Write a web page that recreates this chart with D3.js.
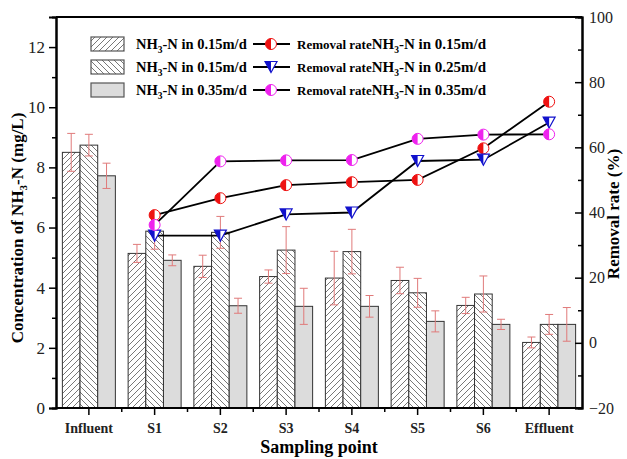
<!DOCTYPE html>
<html>
<head>
<meta charset="utf-8">
<script src="https://cdn.jsdelivr.net/npm/d3@7"></script>
<style>
    body { margin: 0; background: #fff; }
    text { font-family: "Liberation Serif", "DejaVu Serif", serif !important; }
</style>
</head>
<body>
<svg id="chart" width="627" height="459"></svg>
<script>
// data
var categories = ["Influent", "S1", "S2", "S3", "S4", "S5", "S6", "Effluent"];
var conc015 = [8.50, 5.14, 4.71, 4.37, 4.32, 4.24, 3.41, 2.18];
var err015 = [0.63, 0.30, 0.37, 0.22, 0.89, 0.44, 0.27, 0.18];
var conc025 = [8.74, 5.88, 5.84, 5.25, 5.20, 3.83, 3.79, 2.78];
var err025 = [0.36, 0.60, 0.53, 0.78, 0.74, 0.48, 0.60, 0.33];
var conc035 = [7.72, 4.91, 3.40, 3.38, 3.38, 2.88, 2.78, 2.78];
var err035 = [0.42, 0.18, 0.25, 0.60, 0.36, 0.35, 0.17, 0.56];
var rateCats = ["S1", "S2", "S3", "S4", "S5", "S6", "Effluent"];
var rate015 = [39.2, 44.4, 48.4, 49.3, 50.0, 59.7, 74.0];
var rate025 = [32.9, 32.9, 39.4, 40.0, 55.8, 56.2, 67.6];
var rate035 = [36.2, 55.7, 56.0, 56.1, 62.6, 63.9, 64.0];
var leftTicks = [0, 2, 4, 6, 8, 10, 12];
var rightTicks = [-20, 0, 20, 40, 60, 80, 100];

var svg = d3.select("#chart");
var margin = { left: 56, right: 45, top: 17, bottom: 51 };
var width = 627, height = 459;
var x0 = margin.left, x1 = width - margin.right;
var yTop = margin.top, yBot = height - margin.bottom;

var x = d3.scaleBand().domain(categories).range([x0, x1]).padding(0);
var groupW = x.bandwidth() * 0.806;
var xs = d3.scaleBand().domain([0, 1, 2]).range([0, groupW]);
var yL = d3.scaleLinear().domain([0, 13]).range([yBot, yTop]);
var yR = d3.scaleLinear().domain([-20, 100]).range([yBot, yTop]);

function groupLeft(c) { return x(c) + (x.bandwidth() - groupW) / 2; }
function cx(c) { return x(c) + x.bandwidth() / 2; }

// hatch patterns
var defs = svg.append("defs");
function hatch(id, dir) {
    var p = defs.append("pattern").attr("id", id)
        .attr("patternUnits", "userSpaceOnUse").attr("width", 6).attr("height", 6);
    p.append("rect").attr("width", 6).attr("height", 6).attr("fill", "#fff");
    var path = dir > 0 ? "M0,6 L6,0 M-1,1 L1,-1 M5,7 L7,5" : "M0,0 L6,6 M-1,5 L1,7 M5,-1 L7,1";
    p.append("path").attr("d", path).attr("stroke", "#555").attr("stroke-width", 0.8);
}
hatch("h1", 1);
hatch("h2", -1);

var series = [
    { vals: conc015, errs: err015, fill: "url(#h1)" },
    { vals: conc025, errs: err025, fill: "url(#h2)" },
    { vals: conc035, errs: err035, fill: "#dcdcdc" }
];

// bars
series.forEach(function (s, si) {
    svg.append("g").selectAll("rect")
        .data(categories).enter().append("rect")
        .attr("x", function (c) { return groupLeft(c) + xs(si); })
        .attr("width", xs.bandwidth())
        .attr("y", function (c, i) { return yL(s.vals[i]); })
        .attr("height", function (c, i) { return yBot - yL(s.vals[i]); })
        .attr("fill", s.fill)
        .attr("stroke", "#333").attr("stroke-width", 1);
});

// error bars
series.forEach(function (s, si) {
    var g = svg.append("g").attr("stroke", "#e07a7a").attr("stroke-width", 1);
    categories.forEach(function (c, i) {
        var mx = groupLeft(c) + xs(si) + xs.bandwidth() / 2;
        var hi = yL(s.vals[i] + s.errs[i]), lo = yL(s.vals[i] - s.errs[i]);
        g.append("line").attr("x1", mx).attr("x2", mx).attr("y1", hi).attr("y2", lo);
        g.append("line").attr("x1", mx - 4).attr("x2", mx + 4).attr("y1", hi).attr("y2", hi);
        g.append("line").attr("x1", mx - 4).attr("x2", mx + 4).attr("y1", lo).attr("y2", lo);
    });
});

// removal rate lines
var lineSeries = [
    { vals: rate015, color: "#ee1111", shape: "circle" },
    { vals: rate025, color: "#1111cc", shape: "tri" },
    { vals: rate035, color: "#ee22ee", shape: "circle" }
];
var line = d3.line()
    .x(function (d, i) { return cx(rateCats[i]); })
    .y(function (d) { return yR(d); });

lineSeries.forEach(function (s) {
    svg.append("path").datum(s.vals).attr("d", line)
        .attr("fill", "none").attr("stroke", "#000").attr("stroke-width", 1.8);
});

function marker(g, mx, my, s) {
    var r = 5.5;
    if (s.shape === "circle") {
        g.append("circle").attr("cx", mx).attr("cy", my).attr("r", r)
            .attr("fill", "#fff").attr("stroke", s.color).attr("stroke-width", 1);
        g.append("path")
            .attr("d", "M" + mx + "," + (my - r) + " A" + r + "," + r + " 0 0,0 " + mx + "," + (my + r) + " Z")
            .attr("fill", s.color);
    } else {
        var h = 11, w = 12;
        g.append("path")
            .attr("d", "M" + (mx - w / 2) + "," + (my - h / 2) + " L" + (mx + w / 2) + "," + (my - h / 2) + " L" + mx + "," + (my + h / 2) + " Z")
            .attr("fill", "#fff").attr("stroke", s.color).attr("stroke-width", 1.2);
        g.append("path")
            .attr("d", "M" + (mx - w / 2) + "," + (my - h / 2) + " L" + mx + "," + (my - h / 2) + " L" + mx + "," + (my + h / 2) + " Z")
            .attr("fill", s.color);
    }
}

lineSeries.forEach(function (s) {
    var g = svg.append("g");
    s.vals.forEach(function (v, i) { marker(g, cx(rateCats[i]), yR(v), s); });
});

// frame
svg.append("line").attr("x1", x0).attr("x2", x1).attr("y1", yTop).attr("y2", yTop)
    .attr("stroke", "#000").attr("stroke-width", 2);

// left axis
var gl = svg.append("g").attr("transform", "translate(" + x0 + ",0)");
gl.call(d3.axisLeft(yL).tickValues(d3.range(1, 13, 2)).tickSize(4).tickFormat(""));
gl.append("g").call(d3.axisLeft(yL).tickValues(leftTicks).tickSize(7).tickPadding(4));
gl.selectAll(".domain").attr("stroke-width", 2);
gl.selectAll("line").attr("stroke-width", 1.5);
gl.selectAll("text").attr("font-size", 17).attr("fill", "#222");

// right axis (ticks inside)
var gr = svg.append("g").attr("transform", "translate(" + x1 + ",0)");
gr.call(d3.axisLeft(yR).tickValues(d3.range(-10, 100, 20)).tickSize(4).tickFormat(""));
gr.append("g").call(d3.axisLeft(yR).tickValues(rightTicks).tickSize(7).tickFormat(""));
gr.append("g").selectAll("text").data(rightTicks).enter().append("text")
    .attr("x", 7).attr("y", function (d) { return yR(d); }).attr("dy", "0.35em")
    .attr("text-anchor", "start")
    .attr("font-size", 16).attr("fill", "#222")
    .text(function (d) { return d < 0 ? "\u2212" + Math.abs(d) : d; });
gr.selectAll(".domain").attr("stroke-width", 2);
gr.selectAll("line").attr("stroke-width", 1.5);

// bottom axis
var gb = svg.append("g").attr("transform", "translate(0," + yBot + ")");
gb.append("line").attr("x1", x0).attr("x2", x1).attr("stroke", "#000").attr("stroke-width", 2);
gb.selectAll(".major").data(categories).enter().append("line")
    .attr("x1", cx).attr("x2", cx).attr("y1", 0).attr("y2", 7)
    .attr("stroke", "#000").attr("stroke-width", 1.5);
gb.selectAll(".minor").data(categories.slice(1)).enter().append("line")
    .attr("x1", function (c) { return x(c); }).attr("x2", function (c) { return x(c); })
    .attr("y1", 0).attr("y2", 4)
    .attr("stroke", "#000").attr("stroke-width", 1.5);
gb.selectAll("text").data(categories).enter().append("text")
    .attr("x", cx).attr("y", 25).attr("text-anchor", "middle")
    .attr("font-size", 14).attr("font-weight", "bold").attr("fill", "#222")
    .text(function (c) { return c; });

// axis titles
svg.append("text").attr("x", 319).attr("y", 453).attr("text-anchor", "middle")
    .attr("font-size", 18).attr("font-weight", "bold").text("Sampling point");

var lt = svg.append("text").attr("transform", "translate(23,228) rotate(-90)")
    .attr("text-anchor", "middle").attr("font-size", 17).attr("font-weight", "bold");
lt.append("tspan").text("Concentration of NH");
lt.append("tspan").attr("font-size", 11).attr("dy", 4).text("3");
lt.append("tspan").attr("dy", -4).text("-N (mg/L)");

svg.append("text").attr("transform", "translate(619,214) rotate(-90)")
    .attr("text-anchor", "middle").attr("font-size", 17).attr("font-weight", "bold")
    .text("Removal rate (%)");

// legend
var barLegend = ["0.15m/d", "0.15m/d", "0.35m/d"];
var lineLegend = ["0.15m/d", "0.25m/d", "0.35m/d"];
var rows = [44, 67, 90];
var fills = ["url(#h1)", "url(#h2)", "#dcdcdc"];
var lg = svg.append("g");
rows.forEach(function (ry, i) {
    lg.append("rect").attr("x", 91).attr("y", ry - 7).attr("width", 33).attr("height", 14)
        .attr("fill", fills[i]).attr("stroke", "#555").attr("stroke-width", 1.2);
    var t = lg.append("text").attr("x", 136).attr("y", ry + 5)
        .attr("font-size", 14.5).attr("font-weight", "bold");
    t.append("tspan").text("NH");
    t.append("tspan").attr("font-size", 9.5).attr("dy", 4).text("3");
    t.append("tspan").attr("dy", -4).text("-N in " + barLegend[i]);

    lg.append("line").attr("x1", 253).attr("x2", 290).attr("y1", ry).attr("y2", ry)
        .attr("stroke", "#000").attr("stroke-width", 1.8);
    marker(lg, 271, ry, lineSeries[i]);
    var t2 = lg.append("text").attr("x", 297).attr("y", ry + 5).attr("font-weight", "bold");
    t2.append("tspan").attr("font-size", 13).text("Removal rate");
    t2.append("tspan").attr("font-size", 15).text("NH");
    t2.append("tspan").attr("font-size", 9.5).attr("dy", 4).text("3");
    t2.append("tspan").attr("font-size", 15).attr("dy", -4).text("-N in " + lineLegend[i]);
});
</script>
</body>
</html>
